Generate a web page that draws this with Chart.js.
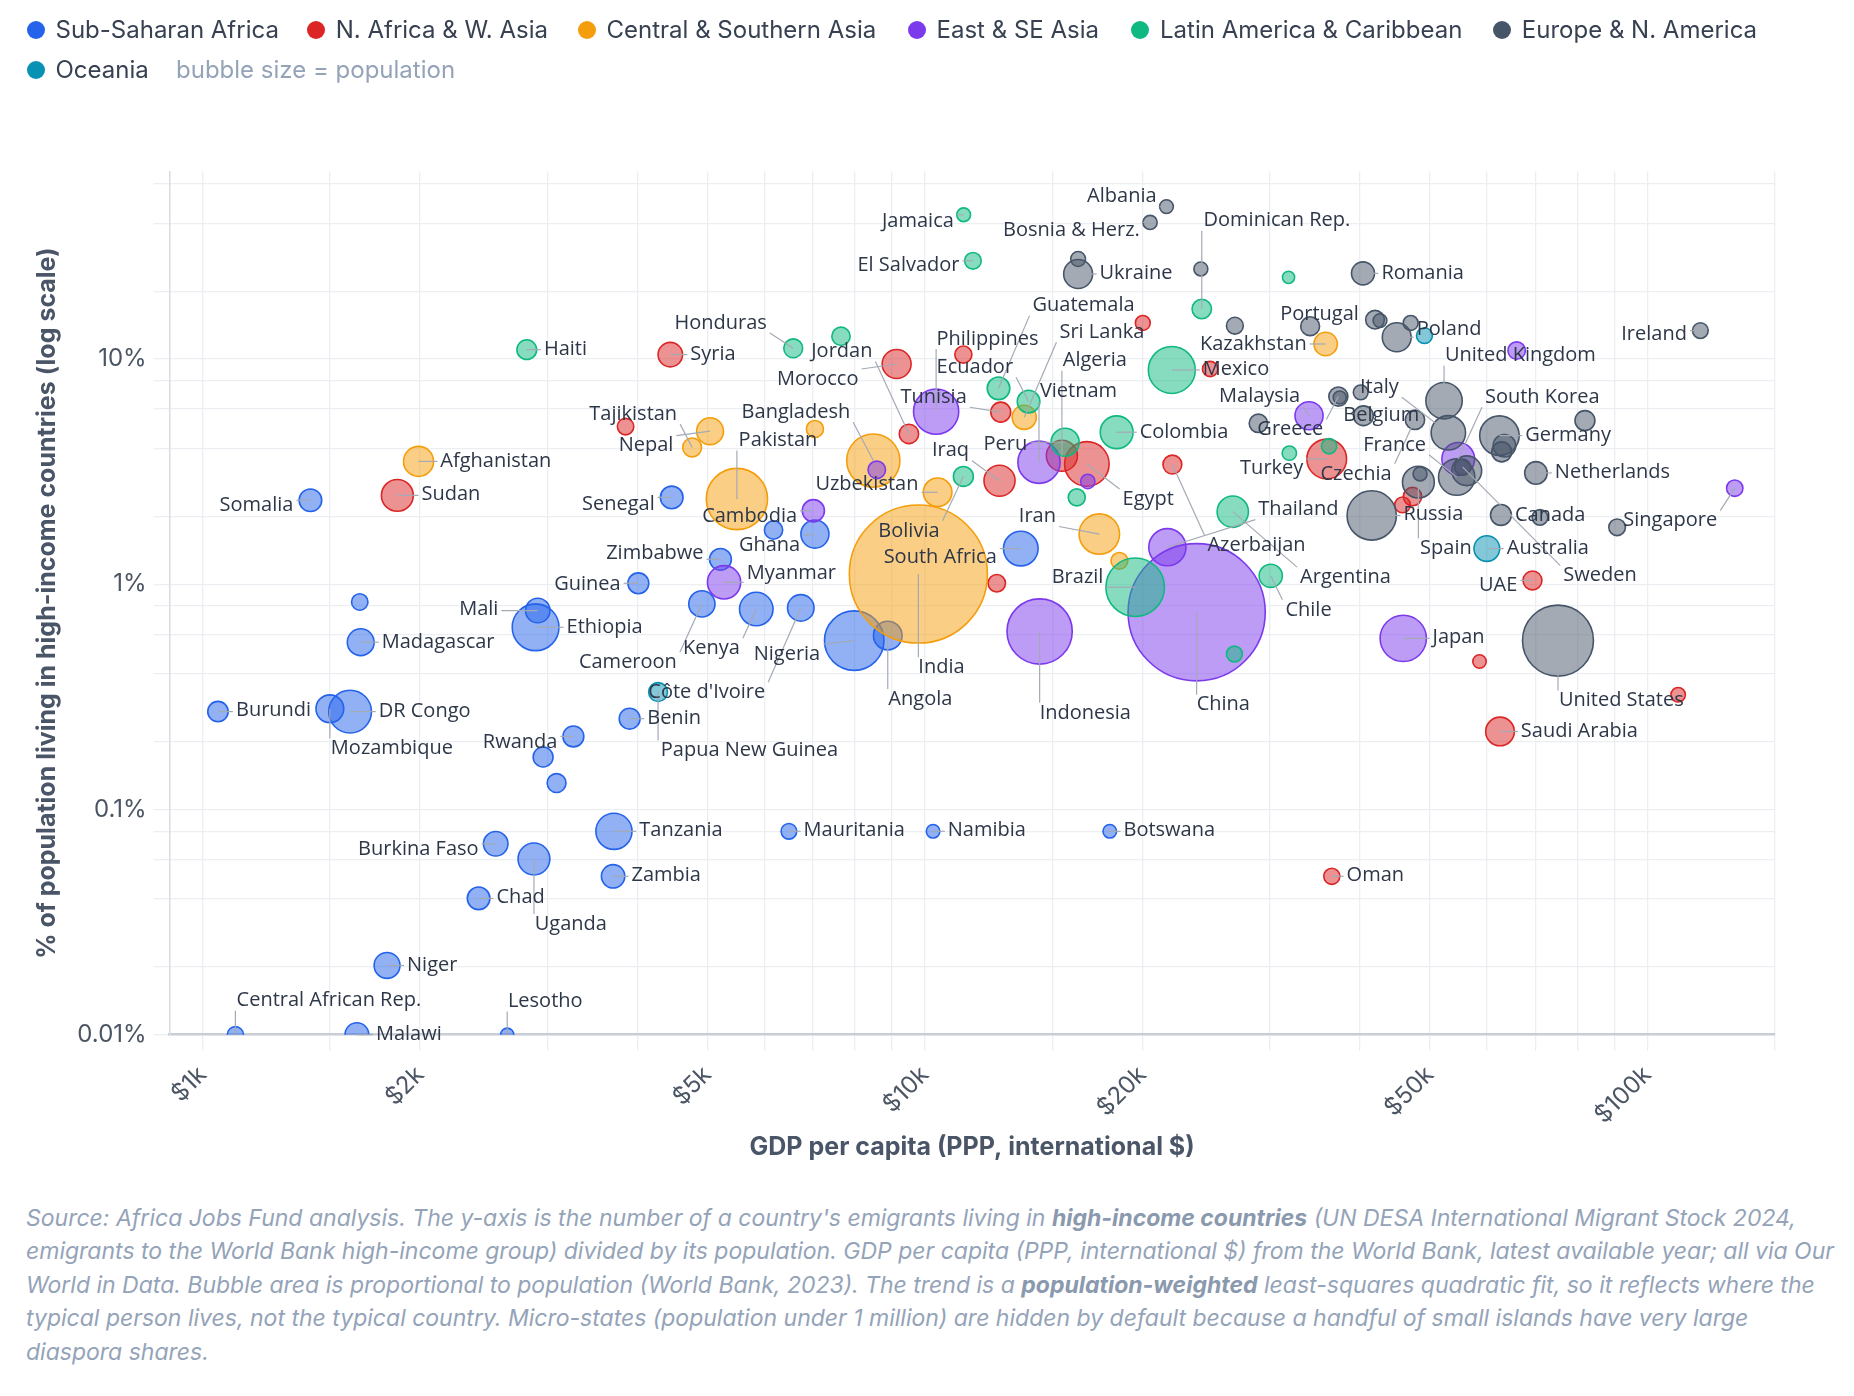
<!DOCTYPE html>
<html>
<head>
<meta charset="utf-8">
<title>Emigrants in high-income countries vs GDP per capita</title>
<script src="https://cdn.jsdelivr.net/npm/chart.js@4.4.1/dist/chart.umd.min.js"></script>
<style>
  html, body { margin: 0; padding: 0; background: #fff; }
  body { width: 1854px; height: 1396px; position: relative; overflow: hidden; font-family: Inter, "Noto Sans", sans-serif; }
  #chartBox { position: absolute; left: 0; top: 0; width: 1854px; height: 1196px; }
  #legend { position: absolute; left: 0; top: 0; width: 1854px; height: 100px; z-index: 2; }
  .item { position: absolute; display: flex; align-items: center; height: 40px; font-size: 24px; color: #374151; white-space: nowrap; }
  .dot { width: 18px; height: 18px; border-radius: 50%; margin-right: 11px; flex: none; }
  .hint { color: #94a3b8; }
  #note { position: absolute; left: 26px; top: 1202px; font-size: 23px; line-height: 33.4px; font-style: italic; color: #94a3b8; white-space: nowrap; }
  #note b { color: #8a99ae; }
</style>
</head>
<body>
<div id="legend"></div>
<div id="chartBox"><canvas id="chart"></canvas></div>
<div id="note">
Source: Africa Jobs Fund analysis. The y-axis is the number of a country's emigrants living in <b>high-income countries</b> (UN DESA International Migrant Stock 2024,<br>
emigrants to the World Bank high-income group) divided by its population. GDP per capita (PPP, international $) from the World Bank, latest available year; all via Our<br>
World in Data. Bubble area is proportional to population (World Bank, 2023). The trend is a <b>population-weighted</b> least-squares quadratic fit, so it reflects where the<br>
typical person lives, not the typical country. Micro-states (population under 1 million) are hidden by default because a handful of small islands have very large<br>
diaspora shares.
</div>
<script>
// regions
const regionNames = ['Sub-Saharan Africa', 'N. Africa & W. Asia', 'Central & Southern Asia', 'East & SE Asia',
  'Latin America & Caribbean', 'Europe & N. America', 'Oceania'];
const regionColors = ['#2563eb', '#dc2626', '#f59e0b', '#7c3aed', '#10b981', '#475569', '#0891b2'];

// gdp = GDP per capita (PPP, $), share = % of population living in high-income countries, pop = millions
const ssaNames = ['Somalia', 'Senegal', 'Zimbabwe', 'Ghana', 'Togo', 'Guinea', 'Mali', 'Ethiopia', 'Madagascar',
  'Sierra Leone', 'Burundi', 'Mozambique', 'DR Congo', 'Rwanda', 'Liberia', 'South Sudan', 'Benin', 'Cameroon',
  'Kenya', "Côte d'Ivoire", 'Nigeria', 'Angola', 'South Africa', 'Tanzania', 'Burkina Faso', 'Uganda', 'Chad',
  'Zambia', 'Niger', 'Central African Rep.', 'Malawi', 'Lesotho', 'Mauritania', 'Namibia', 'Botswana'];
const ssaGdp = [1410, 4460, 5210, 7040, 6170, 4010, 2910, 2890, 1655, 1650, 1050, 1500, 1600, 3260, 2960, 3090,
  3900, 4910, 5840, 6730, 7980, 8880, 13570, 3710, 2545, 2875, 2410, 3700, 1800, 1110, 1635, 2640, 6480, 10260, 18020];
const ssaShare = [2.36, 2.43, 1.29, 1.67, 1.74, 1.01, 0.764, 0.644, 0.553, 0.834, 0.272, 0.28, 0.272, 0.211, 0.171,
  0.131, 0.253, 0.818, 0.776, 0.785, 0.562, 0.592, 1.44, 0.08, 0.0704, 0.0603, 0.0403, 0.0505, 0.0203, 0.01, 0.01,
  0.01, 0.08, 0.08, 0.08];
const ssaPop = [18, 18, 16, 34, 9, 14, 23, 127, 30, 6, 13, 33, 102, 14, 12, 10, 14, 28, 55, 29, 224, 36, 60, 67, 23,
  48, 18, 20, 27, 5.7, 21, 2.3, 4.9, 2.6, 2.6];

const nawaNames = ['Sudan', 'Syria', 'Palestine', 'Jordan', 'Morocco', 'Lebanon', 'Tunisia', 'Iraq', 'Libya',
  'Algeria', 'Egypt', 'Armenia', 'Azerbaijan', 'Georgia', 'Turkey', 'Israel', 'Kuwait', 'UAE', 'Bahrain',
  'Saudi Arabia', 'Oman', 'Qatar'];
const nawaGdp = [1860, 4440, 3850, 9500, 9135, 11300, 12730, 12680, 12570, 15470, 16750, 20020, 22000, 24810, 35980,
  47300, 45820, 69330, 58560, 62510, 36570, 110300];
const nawaShare = [2.48, 10.46, 5.01, 4.65, 9.5, 10.46, 5.81, 2.88, 1.01, 3.72, 3.42, 14.46, 3.4, 9.03, 3.6, 2.45,
  2.25, 1.04, 0.454, 0.222, 0.0505, 0.323];
const nawaPop = [48, 23, 6, 11, 37, 7, 12, 45, 7.5, 45, 113, 4, 10, 4.5, 85, 9.1, 5, 10, 2.5, 36, 5.5, 3.5];

const csaNames = ['Afghanistan', 'Tajikistan', 'Nepal', 'Kyrgyzstan', 'Pakistan', 'Bangladesh', 'Uzbekistan',
  'India', 'Sri Lanka', 'Iran', 'Turkmenistan', 'Kazakhstan'];
const csaGdp = [1990, 4760, 5040, 7040, 5490, 8480, 10410, 9790, 13720, 17430, 18580, 35860];
const csaShare = [3.51, 4.05, 4.78, 4.89, 2.39, 3.54, 2.56, 1.11, 5.51, 1.67, 1.27, 11.66];
const csaPop = [41, 10, 30, 7, 240, 173, 36, 1430, 22, 89, 6.5, 20];

const eseaNames = ['Philippines', 'Cambodia', 'Myanmar', 'Laos', 'Vietnam', 'Mongolia', 'Thailand', 'China',
  'Indonesia', 'Malaysia', 'Japan', 'South Korea', 'Hong Kong', 'Singapore'];
const eseaGdp = [10360, 7005, 5270, 8575, 14380, 16800, 21650, 23770, 14410, 34010, 45920, 54720, 65920, 132100];
const eseaShare = [5.84, 2.12, 1.02, 3.22, 3.48, 2.86, 1.46, 0.751, 0.617, 5.6, 0.575, 3.6, 10.9, 2.67];
const eseaPop = [117, 17, 54, 7.6, 99, 3.4, 72, 1410, 277, 34, 124, 52, 7.5, 5.9];

const lacNames = ['Haiti', 'Honduras', 'Nicaragua', 'Jamaica', 'El Salvador', 'Guatemala', 'Ecuador', 'Bolivia',
  'Peru', 'Paraguay', 'Colombia', 'Dominican Rep.', 'Trinidad & Tobago', 'Mexico', 'Brazil', 'Argentina', 'Chile',
  'Costa Rica', 'Uruguay', 'Panama'];
const lacGdp = [2810, 6570, 7650, 11310, 11650, 12640, 13910, 11300, 15630, 16220, 18420, 24160, 31860, 21960, 19540,
  26670, 30100, 26810, 31940, 36250];
const lacShare = [11.0, 11.16, 12.61, 43.7, 27.3, 7.41, 6.47, 3.01, 4.27, 2.43, 4.73, 16.67, 23.05, 8.94, 0.97, 2.1,
  1.09, 0.49, 3.82, 4.1];
const lacPop = [11.7, 10, 9, 2.8, 6.3, 18, 18, 12, 34, 6.9, 52, 11, 1.5, 128, 216, 46, 19.6, 5.2, 3.4, 4.4];

const eunaNames = ['Albania', 'Bosnia & Herz.', 'Moldova', 'Ukraine', 'North Macedonia', 'Serbia', 'Portugal',
  'Romania', 'Hungary', 'Lithuania', 'Poland', 'Latvia', 'Belarus', 'Greece', 'Slovenia', 'Croatia', 'Belgium',
  'Czechia', 'United Kingdom', 'Italy', 'France', 'Austria', 'Sweden', 'Germany', 'Finland', 'Denmark', 'Norway',
  'Netherlands', 'Canada', 'Luxembourg', 'Switzerland', 'Ireland', 'Russia', 'Spain', 'Estonia', 'United States'];
const eunaGdp = [21590, 20490, 16290, 16290, 24090, 26850, 34130, 40390, 41970, 42640, 44980, 47020, 28940, 37340,
  37500, 40100, 40450, 47670, 52300, 53020, 54450, 56230, 55500, 62400, 63400, 62850, 81950, 70100, 62700, 71000,
  90800, 118400, 41530, 48190, 48450, 75200];
const eunaShare = [47.5, 40.4, 27.8, 23.85, 25.1, 14.06, 13.98, 24.0, 14.95, 14.81, 12.49, 14.46, 5.18, 6.81, 6.75,
  7.11, 5.6, 5.37, 6.53, 4.7, 2.99, 3.19, 3.31, 4.57, 4.12, 3.87, 5.33, 3.12, 2.03, 1.98, 1.79, 13.37, 2.02, 2.84,
  3.09, 0.562];
const eunaPop = [2.8, 3.2, 4, 37, 3, 6.6, 10, 19, 9.6, 2.8, 37, 4, 9.2, 10.4, 2.1, 3.9, 11.7, 10.9, 68, 59, 68, 40,
  5.4, 84, 18, 12, 12, 17.9, 14, 4.9, 6.3, 5, 144, 48, 3, 335];

const oceNames = ['Papua New Guinea', 'New Zealand', 'Australia'];
const oceGdp = [4270, 49130, 59940];
const oceShare = [0.332, 12.7, 1.44];
const ocePop = [10, 5.2, 26.5];

// axis ticks
const xTickValues = [1000, 2000, 5000, 10000, 20000, 50000, 100000];
const xTickLabels = ['$1k', '$2k', '$5k', '$10k', '$20k', '$50k', '$100k'];
const yTickValues = [0.01, 0.1, 1, 10];
const yTickLabels = ['0.01%', '0.1%', '1%', '10%'];

// label placement: [dx, dy, side] in px from bubble centre; side 'l' = text starts at dx, 'r' = text ends at dx
const labelSpots = {
  'Somalia': [-17, 5, 'r'], 'Senegal': [-17, 6.5, 'r'], 'Zimbabwe': [-17, -6.5, 'r'], 'Ghana': [-76, 11.6, 'l'],
  'Guinea': [-17.7, 0.6, 'r'], 'Mali': [-39.4, -1, 'r'], 'Ethiopia': [31, 0, 'l'], 'Madagascar': [21, 0, 'l'],
  'Burundi': [18, -1, 'l'], 'Mozambique': [1, 39.4, 'l'], 'DR Congo': [28.6, 0, 'l'], 'Rwanda': [-16, 6, 'r'],
  'Benin': [17.6, 0, 'l'], 'Papua New Guinea': [2.7, 58.4, 'l'], 'Cameroon': [-25, 58.4, 'r'],
  'Kenya': [-73.3, 39.3, 'l'], "Côte d'Ivoire": [-35.6, 84.3, 'r'], 'Nigeria': [-34, 13.4, 'r'],
  'Angola': [0.6, 63.4, 'l'], 'South Africa': [-24, 8.4, 'r'], 'Tanzania': [25.3, -1, 'l'],
  'Burkina Faso': [-17.1, 5, 'r'], 'Uganda': [0.8, 65, 'l'], 'Chad': [17.9, -1, 'l'], 'Zambia': [18.4, -0.7, 'l'],
  'Niger': [20, -0.6, 'l'], 'Central African Rep.': [1.2, -34, 'l'], 'Malawi': [19, 0, 'l'],
  'Lesotho': [0.7, -33.3, 'l'], 'Mauritania': [14.7, -1, 'l'], 'Namibia': [14.7, -1, 'l'], 'Botswana': [13.7, -1, 'l'],
  'Sudan': [24.1, -0.6, 'l'], 'Syria': [20, 0, 'l'], 'Iraq': [-30.5, -30, 'r'], 'Morocco': [-38.2, 15, 'r'],
  'Jordan': [-97.7, -82.3, 'l'], 'Tunisia': [-34, -14.9, 'r'], 'Egypt': [35.7, 35.1, 'l'], 'Algeria': [0.9, -95, 'l'],
  'Azerbaijan': [35, 80.4, 'l'], 'Turkey': [-23.4, 9.3, 'r'], 'UAE': [-15.1, 4.8, 'r'], 'Saudi Arabia': [20.8, 0, 'l'],
  'Oman': [14.8, -0.7, 'l'],
  'Afghanistan': [21.8, 0, 'l'], 'Tajikistan': [-15, -33.3, 'r'], 'Nepal': [-36.7, 14.4, 'r'],
  'Pakistan': [1.7, -58.4, 'l'], 'Bangladesh': [-131.7, -48.4, 'l'], 'Uzbekistan': [-19.2, -8.3, 'r'],
  'India': [0, 93.3, 'l'], 'Sri Lanka': [35.2, -85, 'l'], 'Iran': [-43.4, -17.6, 'r'], 'Kazakhstan': [-19, 0, 'r'],
  'Philippines': [0.4, -72.7, 'l'], 'Cambodia': [-16.3, 5.1, 'r'], 'Myanmar': [22.7, -9, 'l'],
  'Vietnam': [0.9, -70.6, 'l'], 'Thailand': [91, -37.6, 'l'], 'China': [0, 92.4, 'l'], 'Indonesia': [0, 81.4, 'l'],
  'Malaysia': [-9, -19.4, 'r'], 'Japan': [29.3, -0.8, 'l'], 'South Korea': [26.7, -61.6, 'l'],
  'Singapore': [-111.4, 32.4, 'l'],
  'Haiti': [17.1, 0, 'l'], 'Honduras': [-118.8, -25.3, 'l'], 'Jamaica': [-9.8, 6.6, 'r'],
  'El Salvador': [-13.4, 4.4, 'r'], 'Guatemala': [34, -82.7, 'l'], 'Ecuador': [-92, -34.3, 'l'],
  'Bolivia': [-85, 54.4, 'l'], 'Peru': [-81.6, 1.7, 'l'], 'Colombia': [23, 0, 'l'], 'Dominican Rep.': [1.8, -88.3, 'l'],
  'Mexico': [31, -0.4, 'l'], 'Brazil': [-31.8, -10, 'r'], 'Argentina': [67.3, 65.5, 'l'], 'Chile': [14.7, 34, 'l'],
  'Albania': [-9.9, -9.9, 'r'], 'Bosnia & Herz.': [-10.3, 8.3, 'r'], 'Ukraine': [21.4, -1, 'l'],
  'Romania': [18.4, 0, 'l'], 'Portugal': [-30, -12.3, 'l'], 'Poland': [20, -8.3, 'l'],
  'United Kingdom': [0.9, -45, 'l'], 'Italy': [-88.4, -45.6, 'l'], 'Belgium': [-20.1, 0, 'l'],
  'Greece': [-15, 33, 'r'], 'France': [-93.4, -32.3, 'l'], 'Czechia': [-23.3, 54, 'r'], 'Germany': [25.7, 0, 'l'],
  'Netherlands': [18.9, -0.7, 'l'], 'Ireland': [-13.5, 3.3, 'r'], 'Russia': [31.7, -0.7, 'l'],
  'Canada': [14, 0.7, 'l'], 'Spain': [1.7, 66.1, 'l'], 'Sweden': [100.6, 108.4, 'l'],
  'United States': [0.9, 60, 'l'], 'Australia': [20, 0, 'l']
};

const regions = [
  { names: ssaNames, gdp: ssaGdp, share: ssaShare, pop: ssaPop },
  { names: nawaNames, gdp: nawaGdp, share: nawaShare, pop: nawaPop },
  { names: csaNames, gdp: csaGdp, share: csaShare, pop: csaPop },
  { names: eseaNames, gdp: eseaGdp, share: eseaShare, pop: eseaPop },
  { names: lacNames, gdp: lacGdp, share: lacShare, pop: lacPop },
  { names: eunaNames, gdp: eunaGdp, share: eunaShare, pop: eunaPop },
  { names: oceNames, gdp: oceGdp, share: oceShare, pop: ocePop }
];

function withAlpha(hex, a) {
  const n = parseInt(hex.slice(1), 16);
  return 'rgba(' + (n >> 16) + ',' + ((n >> 8) & 255) + ',' + (n & 255) + ',' + a + ')';
}

function gridValues(mults, fromExp, toExp, extra) {
  const out = [];
  for (let e = fromExp; e <= toExp; e++) {
    mults.forEach(m => out.push(Number((m * Math.pow(10, e)).toPrecision(6))));
  }
  return out.concat(extra);
}
const xGrid = gridValues([1, 1.5, 2, 3, 4, 5, 6, 7, 8, 9], 3, 4, [100000, 150000]);
const yGrid = gridValues([1, 2, 4, 6, 8], -2, 0, [10, 20, 40, 60]);

// legend
const legendBox = document.getElementById('legend');
const legendSpots = [[26.5, 9.6], [306.7, 9.6], [577.5, 9.6], [907.5, 9.6], [1131, 9.6], [1492.8, 9.6], [26.5, 49.8]];
regionNames.forEach((name, i) => {
  const el = document.createElement('div');
  el.className = 'item';
  el.style.left = legendSpots[i][0] + 'px';
  el.style.top = legendSpots[i][1] + 'px';
  el.innerHTML = '<span class="dot" style="background:' + regionColors[i] + '"></span>' + name;
  legendBox.appendChild(el);
});
const hint = document.createElement('div');
hint.className = 'item hint';
hint.style.left = '176px';
hint.style.top = '49.8px';
hint.textContent = 'bubble size = population';
legendBox.appendChild(hint);

// country labels with leader lines
const countryLabels = {
  id: 'countryLabels',
  afterDatasetsDraw(chart) {
    const ctx = chart.ctx;
    ctx.save();
    ctx.font = '20px "Open Sans"';
    ctx.textBaseline = 'middle';
    const boxes = [];
    chart.data.datasets.forEach((ds, i) => {
      const meta = chart.getDatasetMeta(i);
      ds.names.forEach((name, j) => {
        const spot = labelSpots[name];
        if (!spot) return;
        const pt = meta.data[j];
        const w = ctx.measureText(name).width;
        const left = spot[2] === 'r' ? pt.x + spot[0] - w : pt.x + spot[0];
        boxes.push({ name: name, left: left, cy: pt.y + spot[1], w: w, px: pt.x, py: pt.y });
      });
    });
    ctx.strokeStyle = '#a4aab4';
    ctx.lineWidth = 1.2;
    boxes.forEach(b => {
      const nx = Math.min(Math.max(b.px, b.left - 3), b.left + b.w + 3);
      const ny = Math.min(Math.max(b.py, b.cy - 10), b.cy + 10);
      if (Math.hypot(nx - b.px, ny - b.py) < 1) return;
      ctx.beginPath();
      ctx.moveTo(b.px, b.py);
      ctx.lineTo(nx, ny);
      ctx.stroke();
    });
    ctx.fillStyle = '#2d3748';
    boxes.forEach(b => ctx.fillText(b.name, b.left, b.cy));
    ctx.restore();
  }
};

const gridColor = '#eceef2';
const tickFont = { family: 'Inter', size: 24 };
const titleFont = { family: 'Inter', size: 25, weight: 'bold' };

new Chart(document.getElementById('chart'), {
  type: 'bubble',
  data: {
    datasets: regions.map((rg, i) => ({
      label: regionNames[i],
      names: rg.names,
      data: rg.gdp.map((g, j) => ({ x: g, y: rg.share[j] })),
      backgroundColor: withAlpha(regionColors[i], 0.5),
      borderColor: regionColors[i],
      borderWidth: 1.6,
      radius: ctx => 4 + 1.72 * Math.sqrt(rg.pop[ctx.dataIndex]),
      clip: 0,
      order: regions.length - 1 - i
    }))
  },
  options: {
    responsive: true,
    maintainAspectRatio: false,
    animation: false,
    events: [],
    layout: { padding: { top: 171.5, right: 79.4, left: 0, bottom: 0 } },
    plugins: { legend: { display: false }, tooltip: { enabled: false } },
    scales: {
      x: {
        type: 'logarithmic',
        min: 900,
        max: 150000,
        afterBuildTicks: s => { s.ticks = xGrid.map(v => ({ value: v })); },
        afterFit: s => { s.height = 161.3; },
        grid: { color: gridColor, lineWidth: 1.3, tickLength: 16, tickColor: gridColor },
        border: { color: '#c9ced6', width: 2.5 },
        ticks: {
          autoSkip: false, minRotation: 45, maxRotation: 45, padding: 10,
          color: '#4b5563', font: tickFont,
          callback: v => { const k = xTickValues.indexOf(v); return k < 0 ? '' : xTickLabels[k]; }
        },
        title: {
          display: true, text: 'GDP per capita (PPP, international $)', color: '#4a5568', font: titleFont,
          padding: { top: 0, bottom: 34 }
        }
      },
      y: {
        type: 'logarithmic',
        min: 0.01,
        max: 68,
        afterBuildTicks: s => { s.ticks = yGrid.map(v => ({ value: v })); },
        afterFit: s => { s.width = 169.6; },
        grid: { color: gridColor, lineWidth: 1.3, tickLength: 16, tickColor: gridColor },
        border: { color: '#d7dbe2', width: 1.5 },
        ticks: {
          autoSkip: false, padding: 7, color: '#4b5563', font: tickFont,
          callback: v => { const k = yTickValues.indexOf(v); return k < 0 ? '' : yTickLabels[k]; }
        },
        title: {
          display: true, text: '% of population living in high-income countries (log scale)', color: '#4a5568',
          font: titleFont, padding: { top: 32, bottom: 0 }
        }
      }
    }
  },
  plugins: [countryLabels]
});
</script>
</body>
</html>
